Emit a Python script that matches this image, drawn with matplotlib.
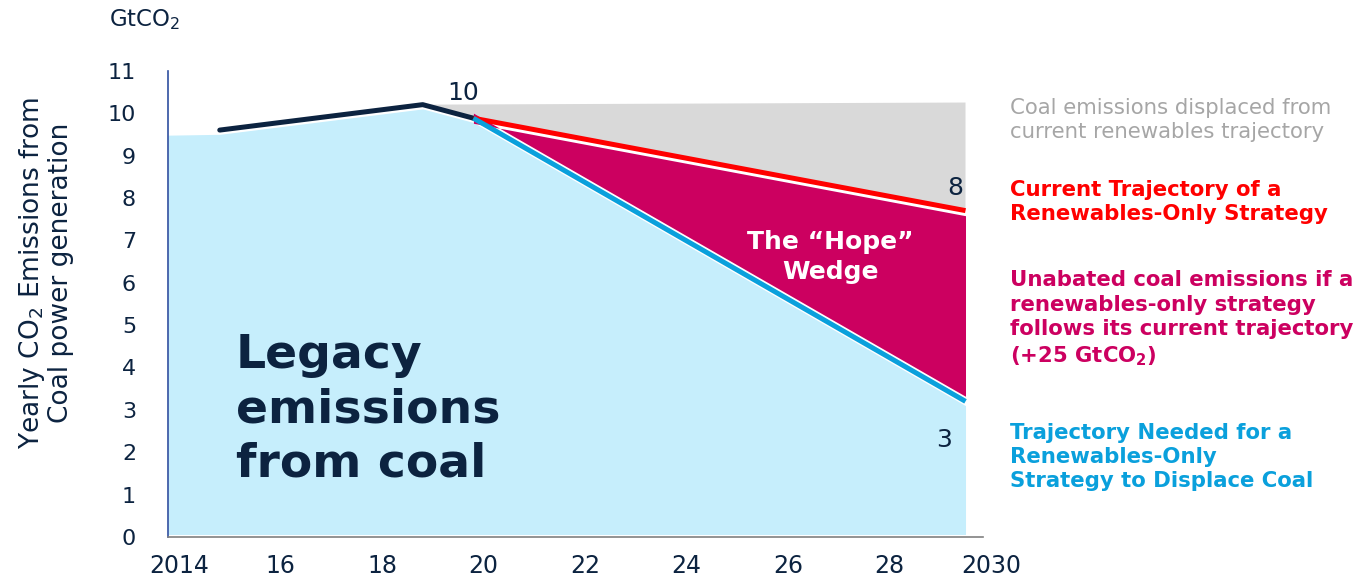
import numpy as np
import matplotlib
matplotlib.use("Agg")
import matplotlib.pyplot as plt

# historical coal power emissions (GtCO2)
history_years = [2014.8, 2018.8, 2019.8]
history_vals = [9.6, 10.2, 9.88]

# projections from 2020 to 2030
proj_years = [2019.8, 2029.5]
needed_vals = [9.88, 3.2]      # trajectory needed for renewables-only
current_vals = [9.88, 7.7]     # current renewables trajectory
ceiling_years = [2018.8, 2029.5]
ceiling_vals = [10.2, 10.25]   # coal emissions if nothing displaced

legacy_start = (2013.78, 9.58)

x_ticks = [2014, 2016, 2018, 2020, 2022, 2024, 2026, 2028, 2030]
x_labels = ["2014", "16", "18", "20", "22", "24", "26", "28", "2030"]
y_ticks = list(range(0, 12))

NAVY = "#0c2340"
LIGHT_BLUE = "#c6eefc"
GREY = "#d9d9d9"
MAGENTA = "#cc0060"
RED = "#ff0000"
BLUE = "#0aa0dc"

plt.rcParams["font.family"] = ["DejaVu Sans"]

fig = plt.figure(figsize=(13.55, 5.79), dpi=100)
ax = fig.add_axes([0.124, 0.0725, 0.6185, 0.809])

# legacy emissions area
legacy_x = [legacy_start[0]] + history_years + [proj_years[-1]]
legacy_top = np.array([legacy_start[1]] + history_vals + [needed_vals[-1]]) - 0.1
ax.fill_between(legacy_x, 0.06, legacy_top, color=LIGHT_BLUE, lw=0, zorder=1)

# displaced emissions (grey)
ax.fill([ceiling_years[0], ceiling_years[1], proj_years[1], proj_years[0]],
        [ceiling_vals[0], ceiling_vals[1], current_vals[1], current_vals[0]],
        color=GREY, lw=0, zorder=1)

# the "hope" wedge
needed = np.array(needed_vals)
current = np.array(current_vals)
ax.fill_between(proj_years, needed + 0.12, current - 0.12,
                interpolate=True, color=MAGENTA, lw=0, zorder=2)

ax.plot(history_years, history_vals, color=NAVY, lw=3.6, solid_capstyle="round", zorder=4)
ax.plot(proj_years, current_vals, color=RED, lw=3.6, solid_capstyle="butt", zorder=5)
ax.plot(proj_years, needed_vals, color=BLUE, lw=3.6, solid_capstyle="butt", zorder=5)

# value labels
ax.text(2019.6, 10.47, f"{round(history_vals[1])}", fontsize=18, color=NAVY,
        ha="center", va="center")
ax.text(2029.29, 8.23, f"{round(current_vals[1])}", fontsize=18, color=NAVY,
        ha="center", va="center")
ax.text(2029.07, 2.29, f"{round(needed_vals[1])}", fontsize=18, color=NAVY,
        ha="center", va="center")

ax.text(2015.12, 3.0, "Legacy\nemissions\nfrom coal", fontsize=34, fontweight="bold",
        color=NAVY, ha="left", va="center", linespacing=1.26)
ax.text(2026.83, 6.6, "The \u201cHope\u201d\nWedge", fontsize=18, fontweight="bold",
        color="white", ha="center", va="center", multialignment="center", linespacing=1.32)

ax.set_xlim(2013.78, 2030.3)
ax.set_ylim(0, 11.05)
ax.set_xticks(x_ticks)
ax.set_xticklabels(x_labels)
ax.set_yticks(y_ticks)
ax.tick_params(axis="both", length=0, labelcolor=NAVY)
ax.tick_params(axis="y", pad=23, labelsize=16)
ax.tick_params(axis="x", pad=12, labelsize=17)

for side in ["top", "right"]:
    ax.spines[side].set_visible(False)
ax.spines["left"].set_color("#2f4fa0")
ax.spines["left"].set_linewidth(1.2)
ax.spines["left"].set_bounds(0, 11)
ax.spines["bottom"].set_color("#808080")
ax.spines["bottom"].set_linewidth(1.2)
ax.spines["bottom"].set_bounds(2013.78, 2029.85)
ax.patch.set_visible(False)

fig.text(145 / 1355, 1 - 20 / 579, "GtCO$_2$", fontsize=16.5, color=NAVY,
         ha="center", va="center")
fig.text(46 / 1355, 1 - 273 / 579, "Yearly CO$_2$ Emissions from\nCoal power generation",
         fontsize=19, color=NAVY, rotation=90, ha="center", va="center",
         multialignment="center", linespacing=1.05)

# legend-style annotations on the right
tx = 1010 / 1355
fs = 15.3
ls = 1.27
fig.text(tx, 1 - 120 / 579, "Coal emissions displaced from\ncurrent renewables trajectory",
         fontsize=fs, color="#a6a6a6", ha="left", va="center", linespacing=ls)
fig.text(tx, 1 - 202 / 579, "Current Trajectory of a\nRenewables-Only Strategy",
         fontsize=fs, color=RED, fontweight="bold", ha="left", va="center", linespacing=ls)
fig.text(tx, 1 - 319 / 579,
         "Unabated coal emissions if a\nrenewables-only strategy\n"
         "follows its current trajectory\n(+25 GtCO$_\\mathbf{2}$)",
         fontsize=fs, color=MAGENTA, fontweight="bold", ha="left", va="center", linespacing=ls)
fig.text(tx, 1 - 457 / 579, "Trajectory Needed for a\nRenewables-Only\nStrategy to Displace Coal",
         fontsize=fs, color=BLUE, fontweight="bold", ha="left", va="center", linespacing=ls)

fig.savefig("out.png", dpi=100)
